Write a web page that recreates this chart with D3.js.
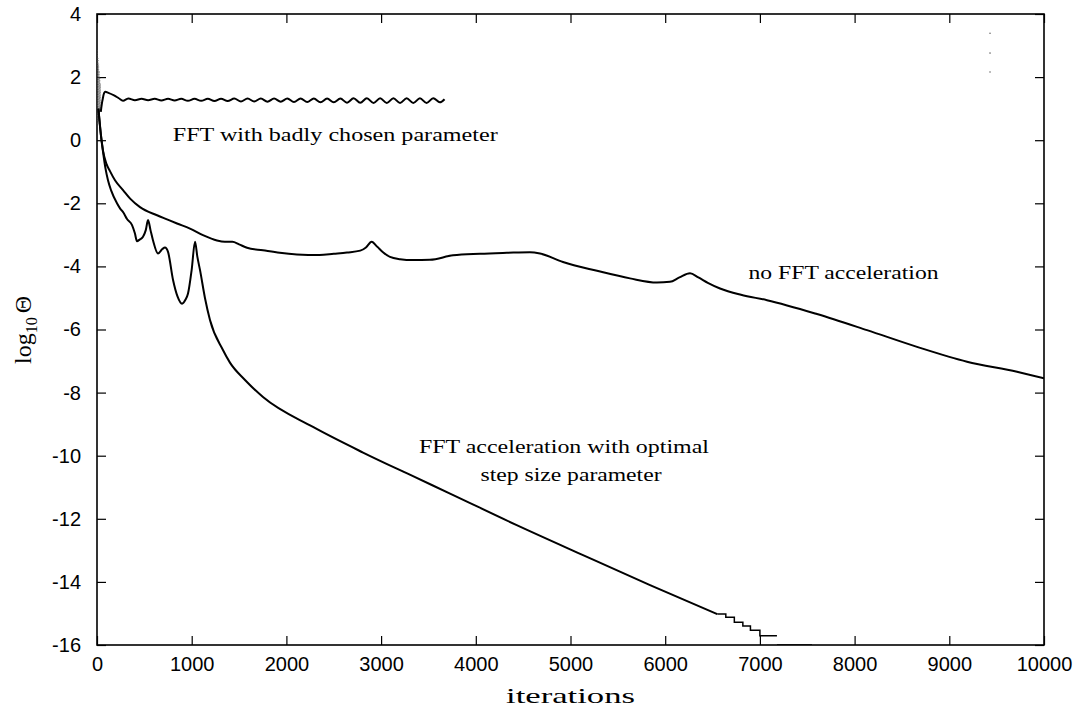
<!DOCTYPE html>
<html><head><meta charset="utf-8">
<script src="https://cdn.jsdelivr.net/npm/d3@7"></script>
<style>body{margin:0;background:#fff}</style>
</head><body>
<svg id="chart" width="1078" height="714"></svg>
<script>
// ---- data ----
const xTicks = [0,1000,2000,3000,4000,5000,6000,7000,8000,9000,10000];
const yTicks = [4,2,0,-2,-4,-6,-8,-10,-12,-14,-16];

const noFFT = [[15,1.0],[40,0.2],[63,-0.32],[100,-0.75],[137,-0.98],[190,-1.27],[275,-1.58],[350,-1.85],[454,-2.12],[634,-2.38],[739,-2.51],[845,-2.64],[982,-2.8],[1119,-3.01],[1267,-3.18],[1350,-3.22],[1430,-3.22],[1500,-3.3],[1584,-3.41],[1753,-3.49],[1930,-3.57],[2110,-3.62],[2350,-3.64],[2500,-3.6],[2640,-3.56],[2780,-3.5],[2840,-3.4],[2900,-3.22],[2960,-3.38],[3020,-3.55],[3094,-3.70],[3200,-3.77],[3337,-3.8],[3516,-3.79],[3760,-3.65],[4044,-3.6],[4329,-3.57],[4572,-3.55],[4678,-3.59],[4921,-3.86],[5280,-4.14],[5628,-4.38],[5913,-4.51],[6050,-4.49],[6150,-4.35],[6262,-4.22],[6350,-4.35],[6450,-4.52],[6579,-4.7],[6800,-4.9],[7075,-5.07],[7603,-5.51],[8131,-6.02],[8659,-6.55],[9187,-7.02],[9715,-7.34],[10000,-7.55]];

const optimal = [[15,1.0],[40,0.2],[63,-0.35],[90,-0.9],[116,-1.27],[150,-1.6],[211,-2.0],[243,-2.16],[280,-2.3],[317,-2.5],[370,-2.69],[400,-2.95],[422,-3.2],[450,-3.15],[486,-3.06],[515,-2.85],[539,-2.53],[565,-2.85],[591,-3.17],[644,-3.59],[690,-3.45],[718,-3.4],[750,-3.54],[803,-4.43],[850,-4.95],[898,-5.18],[935,-5.05],[961,-4.86],[1000,-4.1],[1035,-3.22],[1060,-3.7],[1088,-4.12],[1140,-5.0],[1193,-5.7],[1330,-6.65],[1404,-7.05],[1563,-7.6],[1753,-8.14],[2281,-9.09],[2809,-9.9],[3337,-10.65],[3728,-11.2],[4432,-12.2],[5132,-13.15],[5840,-14.1],[6550,-15.02]];

const optimalTail = [[6550,-15.02],[6640,-15.12],[6730,-15.28],[6820,-15.40],[6900,-15.53],[7000,-15.71],[7180,-15.71],[7180,null],[7180,-16],[7550,-16]];

const badly = [[40,0.9],[60,1.3],[84,1.53],[120,1.5],[180,1.42],[230,1.33],[275,1.25],[330,1.32],[400,1.27],[470,1.31],[540,1.27],[610,1.31],[680,1.26],[750,1.31],[820,1.26],[890,1.31],[960,1.25],[1030,1.31],[1100,1.25],[1170,1.31],[1240,1.24],[1310,1.31],[1380,1.24],[1450,1.32],[1520,1.23],[1590,1.32],[1660,1.23],[1730,1.32],[1800,1.22],[1870,1.32],[1940,1.22],[2010,1.32],[2080,1.21],[2150,1.32],[2220,1.21],[2290,1.32],[2360,1.2],[2430,1.32],[2500,1.2],[2570,1.32],[2640,1.19],[2710,1.33],[2780,1.19],[2850,1.33],[2920,1.18],[2990,1.33],[3060,1.18],[3130,1.33],[3200,1.18],[3270,1.33],[3340,1.18],[3410,1.33],[3480,1.18],[3550,1.33],[3620,1.2],[3670,1.3]];

const startCluster = [[5,2.85],[8,0.5],[11,2.6],[14,0.6],[17,2.4],[20,0.7],[23,2.2],[26,0.9],[29,2.0],[32,1.0],[36,1.8],[40,0.9]];

const keyDots = [[9430,3.39],[9430,2.76],[9430,2.16]];

const labels = [
  {text:"FFT with badly chosen parameter", x:800, y:-0.02, w:325},
  {text:"no FFT acceleration", x:6880, y:-4.4, w:190},
  {text:"FFT acceleration with optimal", x:3400, y:-9.9, w:290},
  {text:"step size parameter", x:4050, y:-10.8, w:181}
];

// ---- layout ----
const svg = d3.select("#chart");
const L=97, R=1044, T=14, B=645;
const x = d3.scaleLinear().domain([0,10000]).range([L,R]);
const y = d3.scaleLinear().domain([-16,4]).range([B,T]);
const sans = "'Liberation Sans', Arial, sans-serif";
const serif = "'Liberation Serif', 'DejaVu Serif', serif";

const tl = 9;
const axB = svg.append("g").attr("transform",`translate(0,${B})`)
  .call(d3.axisBottom(x).tickValues(xTicks).tickSize(-tl).tickPadding(12).tickFormat(d3.format("d")));
const axT = svg.append("g").attr("transform",`translate(0,${T})`)
  .call(d3.axisTop(x).tickValues(xTicks).tickSize(-tl).tickFormat(""));
const axL = svg.append("g").attr("transform",`translate(${L},0)`)
  .call(d3.axisLeft(y).tickValues(yTicks).tickSize(-tl).tickPadding(16).tickFormat(d=>String(d)));
const axR = svg.append("g").attr("transform",`translate(${R},0)`)
  .call(d3.axisRight(y).tickValues(yTicks).tickSize(-tl).tickFormat(""));
[axB,axT,axL,axR].forEach(a=>{
  a.select(".domain").remove();
  a.selectAll(".tick line").attr("stroke","#000").attr("stroke-width",1.2);
  a.selectAll("text").attr("font-family",sans).attr("font-size",20).attr("fill","#000");
});
axB.selectAll("text").attr("dy","0.71em");

svg.append("rect").attr("x",L).attr("y",T).attr("width",R-L).attr("height",B-T)
  .attr("fill","none").attr("stroke","#000").attr("stroke-width",1.6);

svg.append("clipPath").attr("id","plotclip").append("rect").attr("x",L).attr("y",T).attr("width",R-L).attr("height",B-T);
const plot = svg.append("g").attr("clip-path","url(#plotclip)");

const line = d3.line().x(d=>x(d[0])).y(d=>y(d[1])).curve(d3.curveMonotoneX);
const lineWave = d3.line().x(d=>x(d[0])).y(d=>y(d[1])).curve(d3.curveCatmullRom.alpha(0.5));
const lineDef = d3.line().defined(d=>d[1]!==null).x(d=>x(d[0])).y(d=>y(d[1])).curve(d3.curveStepAfter);
const lineLin = d3.line().x(d=>x(d[0])).y(d=>y(d[1]));

plot.append("path").attr("d",lineLin(startCluster)).attr("fill","none").attr("stroke","#555").attr("stroke-width",0.6).attr("stroke-dasharray","1,1.5");
[noFFT, optimal].forEach(s=>{
  plot.append("path").attr("d",line(s)).attr("fill","none").attr("stroke","#000").attr("stroke-width",2).attr("stroke-linejoin","round");
});
plot.append("path").attr("d",lineWave(badly)).attr("fill","none").attr("stroke","#000").attr("stroke-width",2).attr("stroke-linejoin","round");
plot.append("path").attr("d",lineDef(optimalTail)).attr("fill","none").attr("stroke","#000").attr("stroke-width",1.5);

plot.selectAll("circle.kd").data(keyDots).join("circle").attr("class","kd")
  .attr("cx",d=>x(d[0])).attr("cy",d=>y(d[1])).attr("r",0.8).attr("fill","#666");

svg.selectAll("text.ann").data(labels).join("text").attr("class","ann")
  .attr("x",d=>x(d.x)).attr("y",d=>y(d.y))
  .attr("font-family",serif).attr("font-size",18)
  .attr("textLength",d=>d.w).attr("lengthAdjust","spacingAndGlyphs")
  .text(d=>d.text);

svg.append("text").attr("x",(L+R)/2).attr("y",703).attr("text-anchor","middle")
  .attr("font-family",serif).attr("font-size",21).attr("textLength",129).attr("lengthAdjust","spacingAndGlyphs").text("iterations");
const yl = svg.append("text").attr("transform","translate(31,330) rotate(-90)").attr("text-anchor","middle")
  .attr("font-family",serif).attr("font-size",24);
yl.append("tspan").text("log");
yl.append("tspan").attr("font-size",16).attr("dy",6).text("10");
yl.append("tspan").attr("dy",-6).attr("dx",4).text("Θ");
</script>
</body></html>
